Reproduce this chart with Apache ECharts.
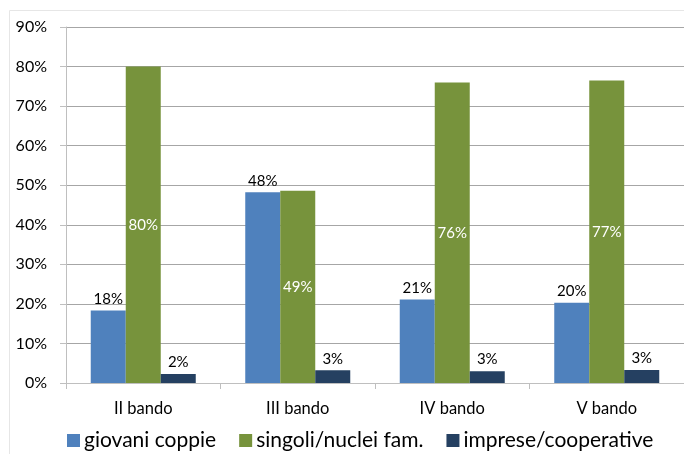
<!DOCTYPE html>
<html>
<head>
<meta charset="utf-8">
<script src="https://cdn.jsdelivr.net/npm/echarts@6/dist/echarts.min.js"></script>
<style>html,body{margin:0;padding:0;background:#fff;}#c{width:684px;height:454px;}</style>
</head>
<body>
<div id="c"></div>
<script>
const categories = ['II bando', 'III bando', 'IV bando', 'V bando'];
const giovaniCoppie = [18.3, 48.2, 21.1, 20.3];
const singoliNuclei = [80.0, 48.6, 76.0, 76.5];
const impreseCoop = [2.3, 3.2, 3.0, 3.3];
const seriesNames = ['giovani coppie', 'singoli/nuclei fam.', 'imprese/cooperative'];

const FONT = 'Lato';
const chart = echarts.init(document.getElementById('c'), null, {renderer: 'canvas'});
const fmt = p => Math.round(p.value) + '%';
chart.setOption({
  animation: false,
  textStyle: {fontFamily: FONT},
  graphic: [{
    type: 'rect', silent: true,
    shape: {x: 9.5, y: 10.5, width: 690, height: 460},
    style: {fill: 'none', stroke: '#e6e6e6', lineWidth: 1}
  }],
  grid: {left: 66, right: -7, top: 27, bottom: 71, containLabel: false},
  legend: {
    left: 62, top: 425,
    itemWidth: 13, itemHeight: 13, itemGap: 23, icon: 'rect',
    textStyle: {fontFamily: FONT, fontSize: 21, color: '#000', padding: [0, 0, 0, -1]},
    data: seriesNames
  },
  xAxis: {
    type: 'category', data: categories,
    axisLine: {lineStyle: {color: '#bfbfbf', width: 1}},
    axisTick: {show: true, length: 6, lineStyle: {color: '#bfbfbf'}},
    axisLabel: {fontFamily: FONT, fontSize: 16.5, color: '#000', margin: 17}
  },
  yAxis: {
    type: 'value', min: 0, max: 90, interval: 10,
    axisLine: {show: true, lineStyle: {color: '#bfbfbf', width: 1}},
    axisTick: {show: true, length: 6, lineStyle: {color: '#bfbfbf'}},
    axisLabel: {formatter: '{value}%', fontFamily: FONT, fontSize: 16, color: '#000', margin: 19},
    splitLine: {lineStyle: {color: '#a6a6a6', width: 1}}
  },
  series: [
    {name: seriesNames[0], type: 'bar', data: giovaniCoppie, barWidth: 35, barGap: '0%',
     itemStyle: {color: '#4F81BD'},
     label: {show: true, position: 'top', formatter: fmt, fontFamily: FONT, fontSize: 15, color: '#000', distance: 4}},
    {name: seriesNames[1], type: 'bar', data: singoliNuclei, barWidth: 35, barGap: '0%',
     itemStyle: {color: '#77933C'},
     label: {show: true, position: 'inside', formatter: fmt, fontFamily: FONT, fontSize: 15, color: '#fff'}},
    {name: seriesNames[2], type: 'bar', data: impreseCoop, barWidth: 35, barGap: '0%',
     itemStyle: {color: '#254061'},
     label: {show: true, position: 'top', formatter: fmt, fontFamily: FONT, fontSize: 15, color: '#000', distance: 4}}
  ]
});
</script>
</body>
</html>
